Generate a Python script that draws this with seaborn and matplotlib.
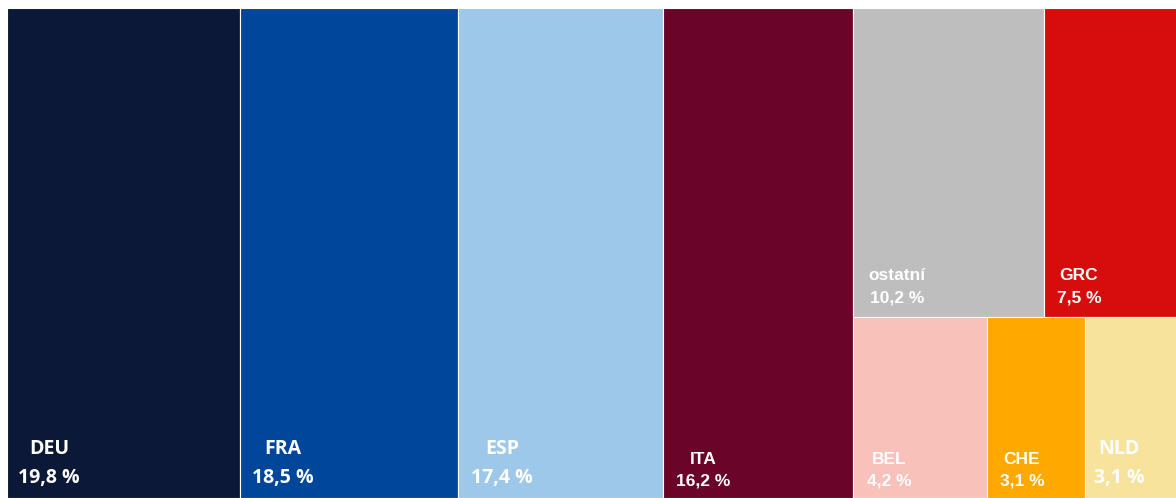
import matplotlib
matplotlib.use("Agg")
import matplotlib.pyplot as plt
import seaborn as sns

# ---- data ----
countries = ["DEU", "FRA", "ESP", "ITA", "ostatní", "GRC", "BEL", "CHE", "NLD"]
shares = [19.8, 18.5, 17.4, 16.2, 10.2, 7.5, 4.2, 3.1, 3.1]
value_labels = ["19,8 %", "18,5 %", "17,4 %", "16,2 %", "10,2 %", "7,5 %", "4,2 %", "3,1 %", "3,1 %"]
colors = ["#0B1838", "#00479B", "#9DC8EA", "#6A0428", "#BEBEBE",
          "#D70D0D", "#F8C1B9", "#FFA900", "#F7E39C"]

# layout: first four are full-height columns, the rest share one column in two rows
columns = [[["DEU"]], [["FRA"]], [["ESP"]], [["ITA"]],
           [["ostatní", "GRC"], ["BEL", "CHE", "NLD"]]]

sns.set_theme(style="white")
fig = plt.figure(figsize=(11.76, 4.98), dpi=100)
ax = fig.add_axes([7 / 1176, 0, 1177 / 1176, 490 / 498])

val = dict(zip(countries, shares))
col = dict(zip(countries, colors))
vlab = dict(zip(countries, value_labels))
total = sum(shares)

rects = {}
x0 = 0.0
for column in columns:
    csum = sum(val[c] for row in column for c in row)
    w = csum / total * 100
    ytop = 1.0
    for row in column:
        rsum = sum(val[c] for c in row)
        h = rsum / csum
        xx = x0
        for c in row:
            rw = w * val[c] / rsum
            rects[c] = (xx, ytop - h, rw, h)
            xx += rw
        ytop -= h
    x0 += w

for c in countries:
    x, y, w, h = rects[c]
    ax.bar(x, h, width=w, bottom=y, align="edge", color=col[c],
           edgecolor="white", linewidth=0.8)

# label styling (font family, size, x offset px, label y px, value y px)
big = dict(family="Open Sans", size=14)
small = dict(family="Liberation Sans", size=12.5)
style = {
    "DEU": (big, 42, 49, 20),
    "FRA": (big, 43, 49, 20),
    "ESP": (big, 44, 49, 20),
    "ITA": (small, 41, 39, 17),
    "ostatní": (small, 44, 41, 19),
    "GRC": (small, 35, 41, 19),
    "BEL": (small, 36, 38, 17),
    "CHE": (small, 35, 38, 17),
    "NLD": (big, 34, 49, 20),
}
for c in countries:
    x, y, w, h = rects[c]
    fnt, dx, ly, vy = style[c]
    ax.annotate(c, (x, y), xytext=(dx, ly), textcoords="offset pixels",
                ha="center", va="center", color="white", fontweight="bold",
                family=fnt["family"], fontsize=fnt["size"])
    ax.annotate(vlab[c], (x, y), xytext=(dx, vy), textcoords="offset pixels",
                ha="center", va="center", color="white", fontweight="bold",
                family=fnt["family"], fontsize=fnt["size"])

ax.set_xlim(0, 100)
ax.set_ylim(0, 1)
ax.axis("off")
fig.savefig("out.png", dpi=100)
